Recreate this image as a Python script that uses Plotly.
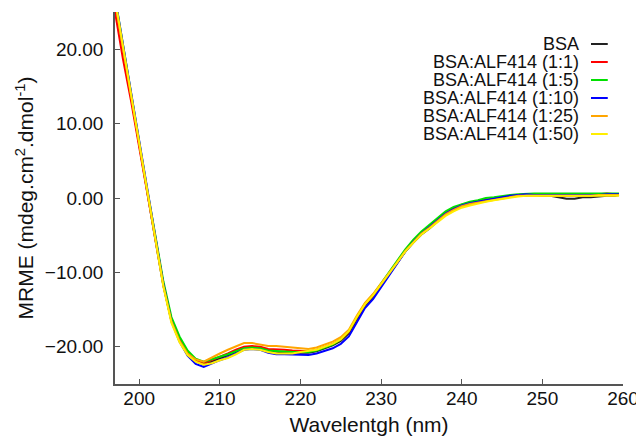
import plotly.graph_objects as go

wavelength = [197, 198, 199, 200, 201, 202, 203, 204, 205, 206, 207, 208, 209, 210,
              211, 212, 213, 214, 215, 216, 217, 218, 219, 220, 221, 222, 223, 224,
              225, 226, 227, 228, 229, 230, 231, 232, 233, 234, 235, 236, 237, 238,
              239, 240, 241, 242, 243, 244, 245, 246, 247, 248, 249, 250, 251, 252,
              253, 254, 255, 256, 257, 258, 259, 259.5]

bsa = [26.5, 20.0, 13.3, 6.8, 0.6, -5.6, -11.8, -16.5, -19.0, -20.8, -21.9, -22.4, -22.0, -21.6,
       -21.2, -20.7, -20.2, -20.1, -20.1, -20.5, -20.7, -20.8, -20.8, -20.8, -20.8, -20.6, -20.2, -19.8,
       -19.2, -18.2, -16.3, -14.5, -13.3, -11.8, -10.3, -8.8, -7.2, -6.0, -4.9, -4.1, -3.2, -2.2,
       -1.6, -1.1, -0.8, -0.6, -0.3, -0.2, 0.0, 0.2, 0.3, 0.4, 0.4, 0.3, 0.3, 0.1,
       -0.1, -0.1, 0.1, 0.1, 0.2, 0.3, 0.3, 0.4]
r_1_1 = [25.0, 18.6, 13.0, 6.9, 0.7, -5.4, -11.6, -16.4, -19.1, -20.9, -21.9, -22.2, -21.8, -21.3,
         -20.9, -20.4, -20.0, -19.9, -20.0, -20.3, -20.4, -20.4, -20.5, -20.6, -20.6, -20.4, -20.0, -19.6,
         -19.0, -18.0, -16.1, -14.3, -13.1, -11.7, -10.2, -8.7, -7.1, -5.8, -4.7, -3.9, -3.0, -2.0,
         -1.4, -0.9, -0.6, -0.4, -0.2, 0.0, 0.1, 0.3, 0.4, 0.5, 0.5, 0.5, 0.4, 0.4,
         0.3, 0.4, 0.5, 0.4, 0.5, 0.6, 0.5, 0.5]
r_1_5 = [27.0, 20.4, 13.8, 7.3, 1.1, -5.0, -11.2, -16.0, -18.6, -20.5, -21.6, -22.0, -21.7, -21.3,
         -21.0, -20.6, -20.2, -20.1, -20.2, -20.5, -20.6, -20.7, -20.7, -20.7, -20.7, -20.5, -20.1, -19.7,
         -19.0, -17.9, -16.0, -14.2, -13.0, -11.5, -10.0, -8.5, -6.9, -5.6, -4.5, -3.6, -2.7, -1.8,
         -1.2, -0.8, -0.5, -0.3, 0.0, 0.1, 0.3, 0.4, 0.5, 0.6, 0.6, 0.6, 0.6, 0.5,
         0.5, 0.5, 0.6, 0.6, 0.6, 0.6, 0.6, 0.6]
r_1_10 = [27.0, 20.6, 14.0, 7.4, 1.2, -5.2, -11.6, -16.6, -19.3, -21.2, -22.3, -22.7, -22.2, -21.8,
          -21.4, -20.9, -20.4, -20.3, -20.4, -20.8, -21.0, -21.0, -21.0, -21.1, -21.1, -20.9, -20.6, -20.2,
          -19.6, -18.6, -16.7, -14.8, -13.6, -12.0, -10.5, -8.9, -7.2, -5.9, -4.8, -3.9, -3.0, -2.1,
          -1.5, -1.0, -0.7, -0.5, -0.2, 0.0, 0.1, 0.3, 0.4, 0.5, 0.4, 0.4, 0.4, 0.3,
          0.3, 0.3, 0.4, 0.4, 0.4, 0.5, 0.5, 0.5]
r_1_25 = [26.5, 20.1, 13.4, 6.9, 0.6, -5.6, -11.8, -16.6, -19.2, -20.9, -21.7, -22.0, -21.4, -20.9,
          -20.4, -20.0, -19.5, -19.5, -19.7, -19.9, -19.9, -20.0, -20.2, -20.3, -20.3, -20.1, -19.7, -19.3,
          -18.7, -17.7, -15.8, -14.1, -12.9, -11.5, -10.1, -8.6, -7.1, -5.9, -4.8, -4.0, -3.1, -2.2,
          -1.6, -1.1, -0.8, -0.6, -0.4, -0.2, 0.0, 0.2, 0.3, 0.3, 0.3, 0.3, 0.3, 0.2,
          0.2, 0.3, 0.3, 0.3, 0.4, 0.4, 0.4, 0.4]
r_1_50 = [26.8, 20.3, 13.6, 7.0, 0.7, -5.6, -11.9, -16.8, -19.4, -21.1, -22.0, -22.4, -22.2, -21.8,
          -21.5, -21.0, -20.4, -20.3, -20.4, -20.7, -20.9, -20.9, -20.9, -20.7, -20.6, -20.4, -20.0, -19.6,
          -19.0, -17.9, -16.0, -14.3, -13.1, -11.6, -10.2, -8.7, -7.2, -6.0, -4.9, -4.1, -3.3, -2.4,
          -1.8, -1.3, -1.0, -0.7, -0.5, -0.3, -0.1, 0.1, 0.2, 0.3, 0.3, 0.3, 0.2, 0.2,
          0.2, 0.2, 0.3, 0.3, 0.3, 0.3, 0.3, 0.3]

names = ['BSA', 'BSA:ALF414 (1:1)', 'BSA:ALF414 (1:5)', 'BSA:ALF414 (1:10)',
         'BSA:ALF414 (1:25)', 'BSA:ALF414 (1:50)']
series = [bsa, r_1_1, r_1_5, r_1_10, r_1_25, r_1_50]
colors = ['#222222', '#ff0000', '#00e000', '#0000ff', '#ffa500', '#ffee00']

y_ticks = [-20, -10, 0, 10, 20]
x_ticks = [200, 210, 220, 230, 240, 250, 260]

font = 'Liberation Sans, Arial, sans-serif'

fig = go.Figure()
for name, vals, col in zip(names, series, colors):
    fig.add_trace(go.Scatter(x=wavelength, y=vals, mode='lines', name=name,
                             line=dict(color=col, width=2), showlegend=False))

# legend drawn by hand: text right-aligned, line sample to the right
for i, (name, col) in enumerate(zip(names, colors)):
    yp = 0.914 - i * 0.0484
    fig.add_annotation(x=0.918, y=yp, xref='paper', yref='paper', text=name,
                       showarrow=False, xanchor='right', yanchor='middle',
                       font=dict(size=18, color='#111111', family=font))
    fig.add_shape(type='line', xref='paper', yref='paper', x0=0.937, x1=0.970,
                  y0=yp, y1=yp, line=dict(color=col, width=2))

# page body has an 8px margin, so the figure is sized to fit the window
fig.update_layout(
    width=636, height=432,
    margin=dict(l=107, r=21, t=4, b=56),
    paper_bgcolor='white', plot_bgcolor='white',
    font=dict(family=font, color='#111111'),
)
fig.update_xaxes(range=[197, 260], tickvals=x_ticks, ticks='inside', ticklen=5,
                 tickcolor='#555555', showline=True, linecolor='#555555', linewidth=1.5,
                 showgrid=False, zeroline=False, tickfont=dict(size=19), automargin=False,
                 ticklabelstandoff=-4,
                 title=dict(text='Wavelentgh (nm)', font=dict(size=21), standoff=10))
fig.update_yaxes(range=[-25, 25], tickvals=y_ticks, tickformat='.2f', ticks='inside',
                 ticklen=5, tickcolor='#555555', showline=True, linecolor='#555555',
                 linewidth=1.5, showgrid=False, zeroline=False, tickfont=dict(size=19),
                 ticklabelstandoff=6, automargin=False,
                 title=dict(text='MRME (mdeg.cm<sup>2</sup>.dmol<sup>-1</sup>)',
                            font=dict(size=21), standoff=5))

fig.write_html('out.html')
